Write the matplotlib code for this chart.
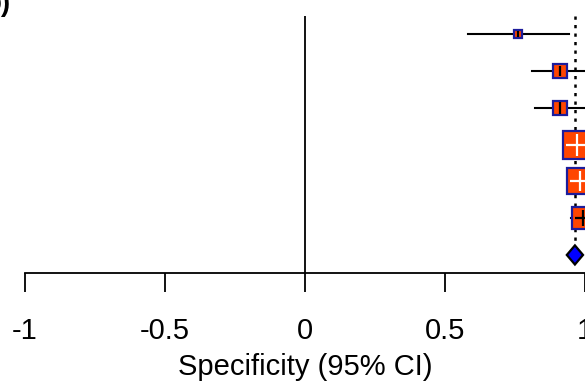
import matplotlib
matplotlib.use("Agg")
import matplotlib.pyplot as plt
from matplotlib.patches import Polygon

plt.rcParams['font.family'] = ['Liberation Sans', 'DejaVu Sans']

# study specificity estimates, top to bottom
spec = [0.761, 0.912, 0.911, 0.970, 0.981, 0.993]
spec_lo = [0.582, 0.810, 0.821, 0.946, 0.946, 0.950]
spec_hi = [0.944, 1.000, 1.000, 1.000, 1.000, 1.000]
weight_px = [10, 15.5, 17, 31, 28, 24]     # square side in pixels (study weight)
cross_col = ['k', 'k', 'k', 'w', 'w', 'k']

pooled = 0.964
pooled_lo = 0.935
pooled_hi = 0.993

xticks = [-1, -0.5, 0, 0.5, 1]
xticklabels = ['-1', '-0.5', '0', '0.5', '1']

fig = plt.figure(figsize=(5.85, 3.81), dpi=100)
ax = fig.add_axes([25 / 585, 108 / 381, 560 / 585, 257 / 381])

rows = list(range(len(spec)))
pooled_row = len(spec)

ax.axvline(0, color='k', lw=1.3, zorder=1)
ax.plot([pooled, pooled], [-0.49, pooled_row - 0.33], color='k', lw=1.8,
        linestyle=(0, (1.3, 2.1)), zorder=1, clip_on=False)

for r in rows:
    ax.plot([spec_lo[r], spec_hi[r]], [r, r], color='k', lw=1.5, zorder=2, clip_on=False)
    ax.plot(spec[r], r, marker='s', ms=weight_px[r] * 0.72 - 1.6,
            mfc='#FF4500', mec='#1C1C9C', mew=1.6, zorder=3, clip_on=False)
    if r < 3:
        ax.plot(spec[r], r, marker='|', ms=weight_px[r] * 0.5, mew=1.6,
                color='k', zorder=4, clip_on=False)
    else:
        ax.plot(spec[r], r, marker='+', ms=weight_px[r] * 0.5, mew=1.6,
                color=cross_col[r], zorder=4, clip_on=False)

dh = 0.26
diamond = Polygon([[pooled_lo, pooled_row], [pooled, pooled_row - dh],
                   [pooled_hi, pooled_row], [pooled, pooled_row + dh]],
                  closed=True, facecolor='#0000FF', edgecolor='k', lw=1.6,
                  zorder=3, clip_on=False)
ax.add_patch(diamond)

ax.set_xlim(-1, 1)
ax.set_ylim(6.49, -0.49)
ax.set_xticks(xticks)
ax.set_xticklabels(xticklabels)
ax.set_yticks([])
for side in ['top', 'right', 'left']:
    ax.spines[side].set_visible(False)
ax.spines['bottom'].set_linewidth(1.3)
ax.tick_params(axis='x', length=13.5, width=1.3, direction='out',
               labelsize=21, pad=18)
ax.set_xlabel('Specificity (95% CI)', fontsize=21, labelpad=6)

fig.text(10 / 585, 1 - 11 / 381, 'b)', fontsize=20, fontweight='bold',
         ha='right', va='baseline')

fig.savefig('out.png', dpi=100)
